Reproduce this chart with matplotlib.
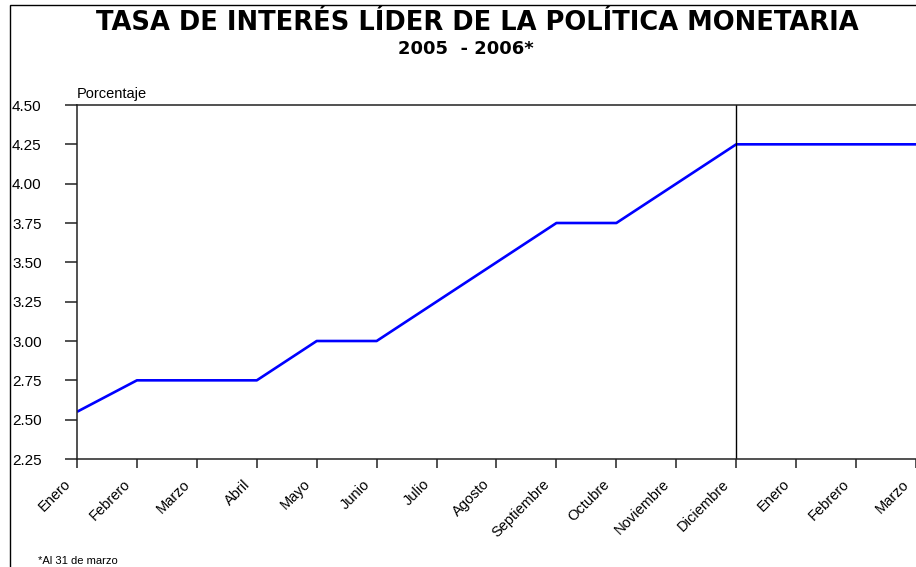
import matplotlib
matplotlib.use('Agg')
import matplotlib.pyplot as plt
from matplotlib.patches import Rectangle
from matplotlib.transforms import ScaledTranslation, blended_transform_factory

plt.rcParams['font.family'] = ['Liberation Sans', 'DejaVu Sans']

# meses 2005 (enero-diciembre) y 2006 (enero-marzo)
meses = ['Enero', 'Febrero', 'Marzo', 'Abril', 'Mayo', 'Junio', 'Julio',
         'Agosto', 'Septiembre', 'Octubre', 'Noviembre', 'Diciembre',
         'Enero', 'Febrero', 'Marzo']
tasa = [2.55, 2.75, 2.75, 2.75, 3.00, 3.00, 3.25, 3.50, 3.75, 3.75,
        4.00, 4.25, 4.25, 4.25, 4.25]
y_ticks = [2.25, 2.50, 2.75, 3.00, 3.25, 3.50, 3.75, 4.00, 4.25, 4.50]
corte_anio = 11  # Diciembre 2005

W, H = 916, 567
fig = plt.figure(figsize=(W / 100, H / 100), dpi=100)

# marco exterior (recortado por la derecha y abajo)
fig.patches.append(Rectangle((10 / W, -0.05), 1.2, 1 - 5 / H + 0.05,
                             transform=fig.transFigure, fill=False,
                             edgecolor='black', linewidth=1.0))

ax = fig.add_axes([77 / W, 1 - 459 / H, (916 - 77) / W, (459 - 105) / H])
x = list(range(len(meses)))
ax.plot(x, tasa, color='#0000FF', linewidth=1.9, solid_capstyle='butt')
ax.axvline(corte_anio, color='black', linewidth=1.0)

ax.set_xlim(0, 13.97)
ax.set_ylim(2.25, 4.50)
ax.set_yticks(y_ticks)
ax.set_yticklabels(['%.2f' % v for v in y_ticks], fontsize=11)
ax.set_xticks(x)
ax.set_xticklabels([])

# etiquetas de meses giradas, un poco a la izquierda de cada marca
trans = blended_transform_factory(ax.transData, ax.transAxes) + \
    ScaledTranslation(-0.09, -0.23, fig.dpi_scale_trans)
for i, m in enumerate(meses):
    ax.text(x[i], 0, m, transform=trans, rotation=45, ha='right',
            va='center', rotation_mode='anchor', fontsize=10.5, clip_on=False)

for s in ['left', 'bottom', 'top']:
    ax.spines[s].set_linewidth(1.1)
    ax.spines[s].set_color('#222222')
ax.spines['right'].set_visible(False)
ax.tick_params(axis='y', direction='out', length=8.5, width=1.1,
               color='#222222', pad=17)
ax.tick_params(axis='x', direction='out', length=6.5, width=1.1,
               color='#222222')

fig.text(477 / W, 1 - 23 / H, 'TASA DE INTERÉS LÍDER DE LA POLÍTICA MONETARIA',
         ha='center', va='center', fontsize=18.5, fontweight='bold',
         family='DejaVu Sans')
fig.text(466 / W, 1 - 49 / H, '2005  - 2006*', ha='center', va='center',
         fontsize=13, fontweight='bold', family='DejaVu Sans')
fig.text(77 / W, 1 - 94 / H, 'Porcentaje', ha='left', va='center', fontsize=10.5)
fig.text(38 / W, 1 - 561 / H, '*Al 31 de marzo', ha='left', va='center',
         fontsize=8)

fig.savefig('out.png', dpi=100)
